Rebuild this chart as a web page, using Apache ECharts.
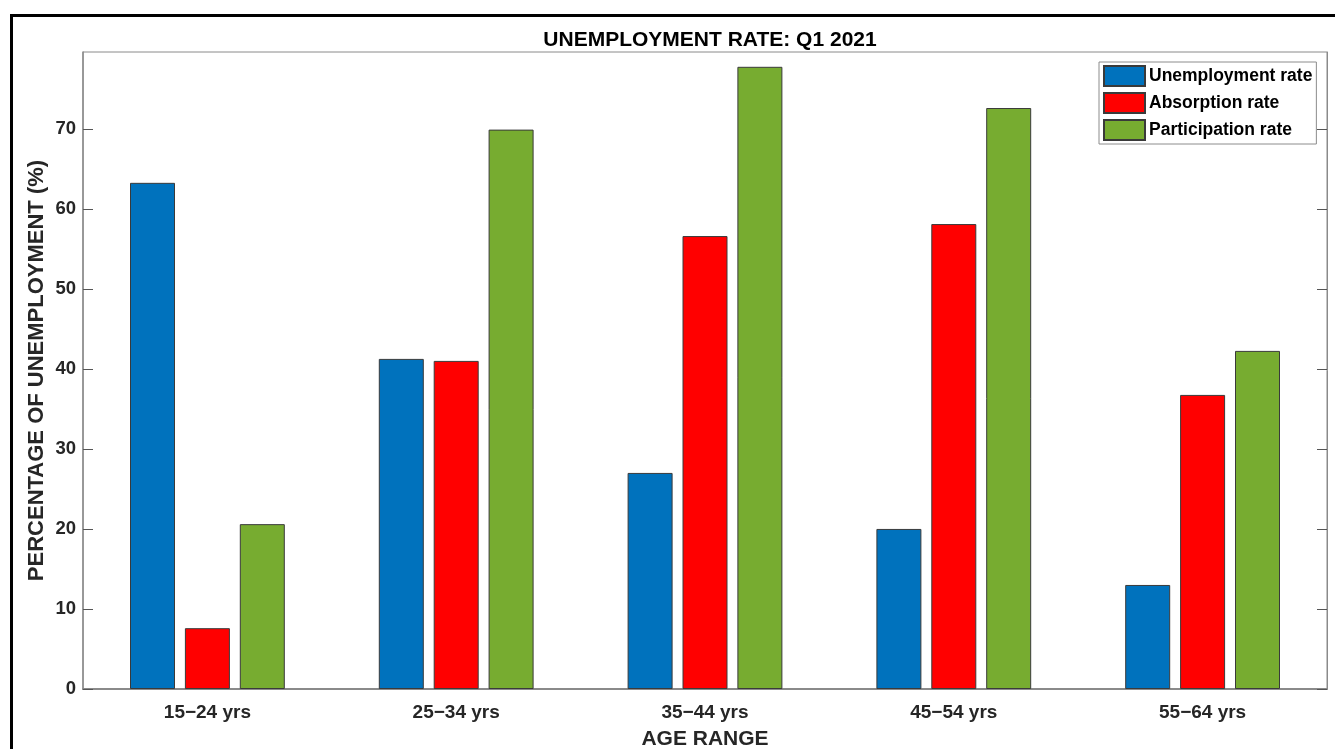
<!DOCTYPE html>
<html>
<head>
<meta charset="utf-8">
<script src="https://cdn.jsdelivr.net/npm/echarts@6/dist/echarts.min.js"></script>
<style>
html,body{margin:0;padding:0;background:#fff;}
#chart{width:1335px;height:749px;}
</style>
</head>
<body>
<div id="chart"></div>
<script>
const categories = ['15\u221224 yrs', '25\u221234 yrs', '35\u221244 yrs', '45\u221254 yrs', '55\u221264 yrs'];
const unemploymentRate = [63.25, 41.25, 27.0, 20.0, 13.0];
const absorptionRate = [7.6, 41.0, 56.6, 58.1, 36.75];
const participationRate = [20.6, 69.9, 77.75, 72.6, 42.25];
const yTicks = [0, 10, 20, 30, 40, 50, 60, 70];

const FONT = 'Liberation Sans, Arial, Helvetica, sans-serif';
const chart = echarts.init(document.getElementById('chart'));
const barBase = { type: 'bar', barWidth: 45, barGap: '22%', itemStyle: { borderColor: '#3a3a3a', borderWidth: 1 } };

chart.setOption({
  backgroundColor: '#fff',
  animation: false,
  title: {
    text: 'UNEMPLOYMENT RATE: Q1 2021',
    left: 705, top: 25, textAlign: 'center',
    textStyle: { fontFamily: FONT, fontWeight: 'bold', fontSize: 21, color: '#000' }
  },
  legend: {
    left: 1099, top: 62, orient: 'vertical',
    itemWidth: 41, itemHeight: 20, itemGap: 5,
    padding: [3, 4, 3, 4],
    backgroundColor: '#fff', borderColor: '#8c8c8c', borderWidth: 1,
    icon: 'rect',
    textStyle: { fontFamily: FONT, fontWeight: 'bold', fontSize: 17.5, color: '#000', padding: [0, 0, 0, -1] },
    data: ['Unemployment rate', 'Absorption rate', 'Participation rate']
  },
  grid: { left: 83, right: 8, top: 52, bottom: 60, containLabel: false, outerBoundsMode: 'none', show: true, borderColor: '#8a8a8a', borderWidth: 1 },
  xAxis: [{
    type: 'category', data: categories, position: 'bottom',
    name: 'AGE RANGE', nameLocation: 'middle', nameGap: 40, nameMoveOverlap: false,
    nameTextStyle: { fontFamily: FONT, fontWeight: 'bold', fontSize: 21, color: '#262626' },
    axisLine: { lineStyle: { color: '#8a8a8a', width: 2 } },
    axisTick: { alignWithLabel: true, inside: true, length: 10, lineStyle: { color: '#555' } },
    axisLabel: { fontFamily: FONT, fontWeight: 'bold', fontSize: 19, color: '#262626', margin: 14 }
  }, {
    type: 'category', data: categories, position: 'top',
    axisLine: { lineStyle: { color: '#8a8a8a', width: 1 } },
    axisTick: { alignWithLabel: true, inside: true, length: 10, lineStyle: { color: '#555' } },
    axisLabel: { show: false }
  }],
  yAxis: [{
    type: 'value', min: 0, max: 79.6, interval: 10, position: 'left',
    name: 'PERCENTAGE OF UNEMPLOYMENT (%)', nameLocation: 'middle', nameGap: 35, nameMoveOverlap: false,
    nameTextStyle: { fontFamily: FONT, fontWeight: 'bold', fontSize: 22, color: '#262626' },
    axisLine: { show: true, lineStyle: { color: '#8a8a8a', width: 1.5 } },
    axisTick: { show: true, inside: true, length: 10, customValues: yTicks, lineStyle: { color: '#555' } },
    axisLabel: { customValues: yTicks, fontFamily: FONT, fontWeight: 'bold', fontSize: 18.5, color: '#262626', margin: 7 },
    splitLine: { show: false }
  }, {
    type: 'value', min: 0, max: 79.6, interval: 10, position: 'right',
    axisLine: { show: true, lineStyle: { color: '#8a8a8a', width: 1 } },
    axisTick: { show: true, inside: true, length: 10, customValues: yTicks, lineStyle: { color: '#555' } },
    axisLabel: { show: false },
    splitLine: { show: false }
  }],
  series: [
    Object.assign({}, barBase, { name: 'Unemployment rate', data: unemploymentRate, itemStyle: Object.assign({}, barBase.itemStyle, { color: '#0072BD' }) }),
    Object.assign({}, barBase, { name: 'Absorption rate', data: absorptionRate, itemStyle: Object.assign({}, barBase.itemStyle, { color: '#FF0000' }) }),
    Object.assign({}, barBase, { name: 'Participation rate', data: participationRate, itemStyle: Object.assign({}, barBase.itemStyle, { color: '#77AC30' }) })
  ],
  graphic: [{
    type: 'rect', silent: true, z: 100,
    shape: { x: 11.5, y: 15.5, width: 1400, height: 800 },
    style: { fill: 'none', stroke: '#000', lineWidth: 3 }
  }]
});
</script>
</body>
</html>
